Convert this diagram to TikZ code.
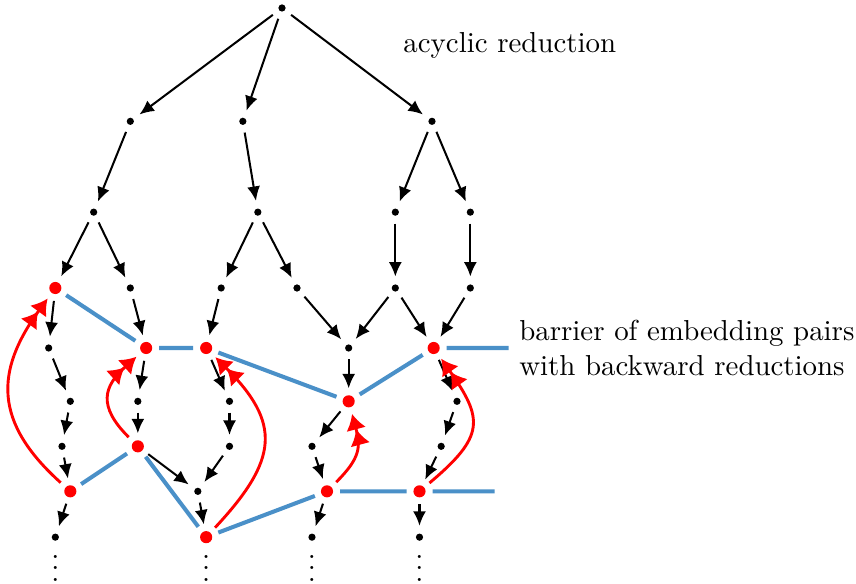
\documentclass[tikz,border=0pt]{standalone}
\usepackage{amsmath}
\usepackage{tikz}
\usetikzlibrary{arrows.meta}
\usetikzlibrary{positioning}
\definecolor{barrierblue}{RGB}{74,144,200}
\tikzset{
  vtx/.style={circle, fill, inner sep=0pt, minimum size=2.5pt, outer sep=2.7pt},
  rvtx/.style={vtx, fill=red, minimum size=4.2pt, outer sep=2.4pt},
  barrier/.style={draw=barrierblue, line width=1.4pt},
  backred/.style={draw=red, line width=1pt,
    -{Latex[length=5.5pt,width=7pt]Latex[length=5.5pt,width=7pt]}},
}

\begin{document}
\begin{tikzpicture}[on grid, x=1.014cm, y=1.014cm, line width=0.7pt,
                    >={Latex[length=5pt,width=4.5pt]}]
        \useasboundingbox (-3.384,0.096) rectangle (6.888,-6.912);

        \node [vtx] (r) at (0,0) {};

        \node [vtx, below left = 1.36 and 1.82 of r] (n11) {};
        \node [vtx, below left = 1.36 and 0.47 of r] (n12) {};
        \node [vtx, below right = 1.36 and 1.80 of r] (n13) {};

        \node [vtx, below left = 1.09 and 0.44 of n11] (n21) {};
        \node [vtx, below right = 1.09 and 0.18 of n12] (n22) {};
        \node [vtx, below left = 1.09 and 0.44 of n13] (n23) {};
        \node [vtx, below right = 1.09 and 0.46 of n13] (n24) {};

        \node [rvtx, below left = 0.91 and 0.46 of n21] (n31) {};
        \node [vtx, below right = 0.91 and 0.44 of n21] (n32) {};
        \node [vtx, below left = 0.91 and 0.44 of n22] (n33) {};
        \node [vtx, below right = 0.91 and 0.47 of n22] (n34) {};
        \node [vtx, below = 0.91 of n23] (n35) {};
        \node [vtx, below = 0.91 of n24] (n36) {};

        \node [vtx, below left = 0.72 and 0.08 of n31] (n41) {};
        \node [rvtx, below right = 0.72 and 0.19 of n32] (n42) {};
        \node [rvtx, below left = 0.72 and 0.18 of n33] (n43) {};
        \node [vtx, below right = 0.72 and 0.62 of n34] (n44) {};
        \node [rvtx, below right = 0.72 and 0.46 of n35] (n45) {};

        \node [vtx, below right = 0.64 and 0.26 of n41] (n51) {};
        \node [vtx, below left = 0.64 and 0.10 of n42] (n52) {};
        \node [vtx, below right = 0.64 and 0.28 of n43] (n53) {};
        \node [rvtx, below = 0.64 of n44] (n54) {};
        \node [vtx, below right = 0.64 and 0.28 of n45] (n55) {};

        \node [vtx, below left = 0.54 and 0.10 of n51] (n61) {};
        \node [rvtx, below = 0.54 of n52] (n62) {};
        \node [vtx, below = 0.54 of n53] (n63) {};
        \node [vtx, below left = 0.54 and 0.44 of n54] (n64) {};
        \node [vtx, below left = 0.54 and 0.19 of n55] (n65) {};

        \node [rvtx, below right = 0.54 and 0.10 of n61] (n71) {};
        \node [vtx, below right = 0.54 and 0.72 of n62] (n72) {};
        \node [rvtx, below right = 0.54 and 0.18 of n64] (n73) {};
        \node [rvtx, below left = 0.54 and 0.26 of n65] (n74) {};

        \node [vtx, below left = 0.55 and 0.18 of n71] (n81) {};
        \node [rvtx, below right = 0.55 and 0.10 of n72] (n82) {};
        \node [vtx, below left = 0.55 and 0.18 of n73] (n83) {};
        \node [vtx, below = 0.55 of n74] (n84) {};

        \node [below = 0.27 of n81, inner sep=0pt] (d1) {$\vdots$};
        \node [below = 0.27 of n82, inner sep=0pt] (d2) {$\vdots$};
        \node [below = 0.27 of n83, inner sep=0pt] (d3) {$\vdots$};
        \node [below = 0.27 of n84, inner sep=0pt] (d4) {$\vdots$};

        \coordinate [right = 0.9 of n45] (b1);
        \coordinate [right = 0.9 of n74] (b2);

        \node [below right = 0.45 and 1.33 of r, anchor=west] (acyc) {acyclic reduction};
        \node [right = 0 of b1, anchor=west, align=left] (barr)
              {barrier of embedding pairs\\with backward reductions};

        \draw [->] (r) -- (n11);
        \draw [->] (r) -- (n12);
        \draw [->] (r) -- (n13);

        \draw [->] (n11) -- (n21);
        \draw [->] (n12) -- (n22);
        \draw [->] (n13) -- (n23);
        \draw [->] (n13) -- (n24);

        \draw [->] (n21) -- (n31);
        \draw [->] (n21) -- (n32);
        \draw [->] (n22) -- (n33);
        \draw [->] (n22) -- (n34);
        \draw [->] (n23) -- (n35);
        \draw [->] (n24) -- (n36);

        \draw [->] (n31) -- (n41);
        \draw [->] (n32) -- (n42);
        \draw [->] (n33) -- (n43);
        \draw [->] (n34) -- (n44);
        \draw [->] (n35) -- (n44);
        \draw [->] (n35) -- (n45);
        \draw [->] (n36) -- (n45);

        \draw [->] (n41) -- (n51);
        \draw [->] (n42) -- (n52);
        \draw [->] (n43) -- (n53);
        \draw [->] (n44) -- (n54);
        \draw [->] (n45) -- (n55);

        \draw [->] (n51) -- (n61);
        \draw [->] (n52) -- (n62);
        \draw [->] (n53) -- (n63);
        \draw [->] (n54) -- (n64);
        \draw [->] (n55) -- (n65);

        \draw [->] (n61) -- (n71);
        \draw [->] (n62) -- (n72);
        \draw [->] (n63) -- (n72);
        \draw [->] (n64) -- (n73);
        \draw [->] (n65) -- (n74);

        \draw [->] (n71) -- (n81);
        \draw [->] (n72) -- (n82);
        \draw [->] (n73) -- (n83);
        \draw [->] (n74) -- (n84);

        % barrier
        \draw [barrier] (n31) -- (n42) -- (n43) -- (n54) -- (n45) -- (b1);
        \draw [barrier] (n71) -- (n62) -- (n82) -- (n73) -- (n74) -- (b2);

        % backward reductions
        \draw [backred] (n71) to [out=138, in=234, looseness=1.25] (n31);
        \draw [backred] (n62) to [out=135, in=222, looseness=1.4] (n42);
        \draw [backred] (n82) to [out=47, in=-45, looseness=1.4] (n43);
        \draw [backred] (n73) to [out=45, in=-75, looseness=1.25] (n54);
        \draw [backred] (n74) to [out=40, in=-55, looseness=1.5] (n45);
    \end{tikzpicture}
\end{document}
